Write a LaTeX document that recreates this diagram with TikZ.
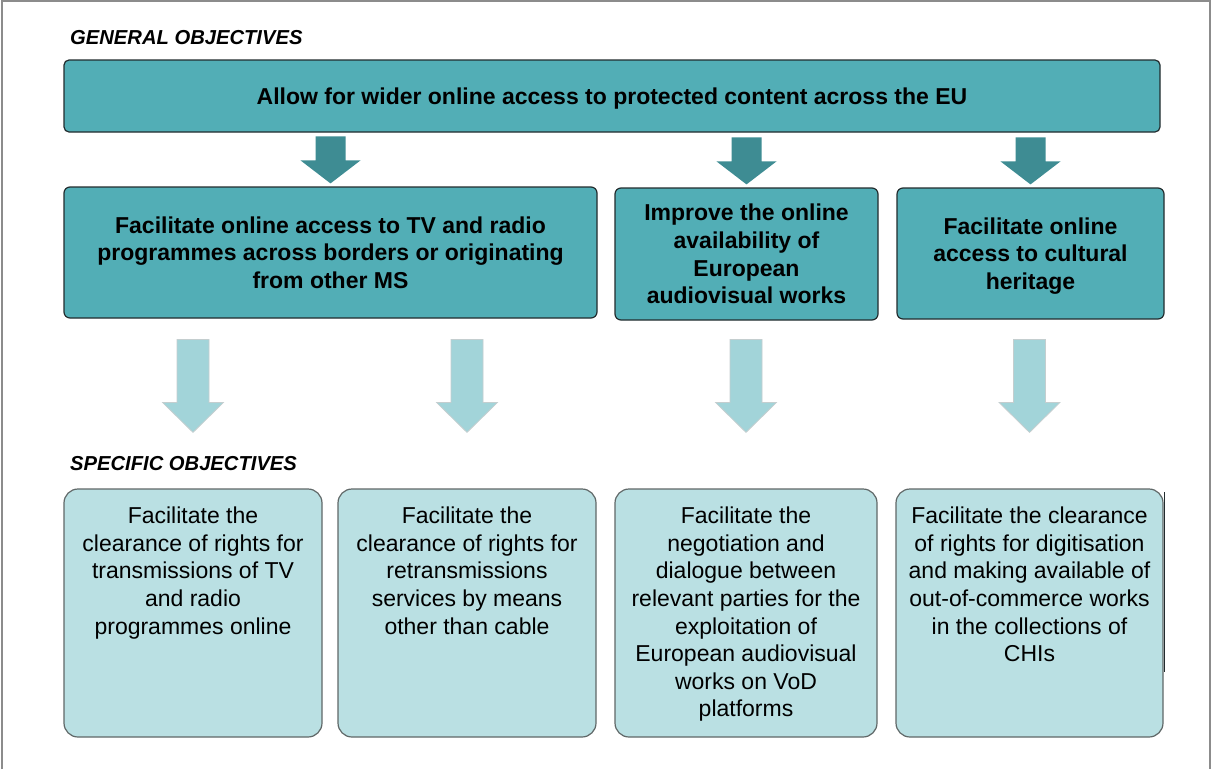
\documentclass[tikz,border=0pt]{standalone}
\usepackage{fontspec}
\setmainfont{Liberation Sans}
\usetikzlibrary{calc}
\definecolor{topfill}{RGB}{82,174,182}
\definecolor{darkarrow}{RGB}{62,140,147}
\definecolor{lightarrow}{RGB}{162,212,217}
\definecolor{lightedge}{RGB}{196,206,207}
\definecolor{botfill}{RGB}{186,224,227}
\definecolor{darkedge}{RGB}{34,44,46}
\definecolor{grayedge}{RGB}{96,104,104}
\definecolor{framegray}{RGB}{140,140,140}
\begin{document}
\begin{tikzpicture}[x=1pt,y=-1pt,
  heading/.style={font=\fontsize{20.2}{24}\selectfont\bfseries\itshape, inner sep=0pt, anchor=base west},
  genbox/.style={draw=darkedge, line width=1.2pt, fill=topfill, rounded corners=6pt, inner sep=0pt,
    align=center, font=\fontsize{23}{27.6}\selectfont\bfseries},
  specbox/.style={draw=grayedge, line width=1.2pt, fill=botfill, rounded corners=14pt, inner sep=0pt},
  spectext/.style={inner sep=0pt, anchor=north, align=center, font=\fontsize{23}{27.6}\selectfont},
  darkarr/.style={fill=darkarrow, draw=none},
  lightarr/.style={fill=lightarrow, draw=lightedge, line width=0.8pt},
  frameline/.style={draw=framegray, line width=2pt}]
\useasboundingbox (0,0) rectangle (1212,769);
\fill[white] (0,0) rectangle (1212,769);
\draw[frameline] (2,769) -- (2,1) -- (1209.5,1) -- (1209.5,769);

% headings
\node[heading] (gh) at (70,44) {GENERAL OBJECTIVES};
\node[heading] (sh) at (70,470) {SPECIFIC OBJECTIVES};

% general objective
\node[genbox, rounded corners=5pt, text depth=0pt, minimum width=1096pt, minimum height=72pt] (g) at (612,96)
  {Allow for wider online access to protected content across the EU};

% intermediate objectives
\node[genbox, minimum width=533pt, minimum height=131pt] (m1) at (330.5,252.5)
  {Facilitate online access to TV and radio\\programmes across borders or originating\\from other MS};
\node[genbox, minimum width=263pt, minimum height=132pt] (m2) at (746.5,254)
  {Improve the online\\availability of\\European\\audiovisual works};
\node[genbox, text depth=0pt, minimum width=267pt, minimum height=131pt] (m3) at (1030.5,253.5)
  {Facilitate online\\access to cultural\\heritage};

% specific objectives
\node[specbox, minimum width=258pt, minimum height=248pt] (s1) at (193,613) {};
\node[specbox, minimum width=258pt, minimum height=248pt] (s2) at (467,613) {};
\node[specbox, minimum width=262pt, minimum height=248pt] (s3) at (746,613) {};
\node[specbox, minimum width=267pt, minimum height=248pt] (s4) at (1029.5,613) {};
\draw[darkedge, line width=1.5pt] ($(s4.north east)+(1,4)$) -- ($(s4.north east)+(1,184)$);

\node[spectext] (t1) at ($(s1.north)+(0,18.5)$)
  {Facilitate the\\clearance of rights for\\transmissions of TV\\and radio\\programmes online};
\node[spectext] (t2) at ($(s2.north)+(0,18.5)$)
  {Facilitate the\\clearance of rights for\\retransmissions\\services by means\\other than cable};
\node[spectext] (t3) at ($(s3.north)+(0,18.5)$)
  {Facilitate the\\negotiation and\\dialogue between\\relevant parties for the\\exploitation of\\European audiovisual\\works on VoD\\platforms};
\node[spectext] (t4) at ($(s4.north)+(0,18.5)$)
  {Facilitate the clearance\\of rights for digitisation\\and making available of\\out-of-commerce works\\in the collections of\\CHIs};

% dark block arrows: general -> intermediate
\foreach \m in {m1,m2,m3}{
  \draw[darkarr] (\m.north) ++(0,-50) ++(-15,0) -- ++(30,0) -- ++(0,24) -- ++(15,0)
    -- ++(-30,23) -- ++(-30,-23) -- ++(15,0) -- cycle;
}
% light block arrows: intermediate -> specific
\foreach \s in {s1,s2,s3,s4}{
  \draw[lightarr] (\s.north) ++(0,-149) ++(-16,0) -- ++(32,0) -- ++(0,63) -- ++(14.5,0)
    -- ++(-30.5,30) -- ++(-30.5,-30) -- ++(14.5,0) -- cycle;
}
\end{tikzpicture}
\end{document}
